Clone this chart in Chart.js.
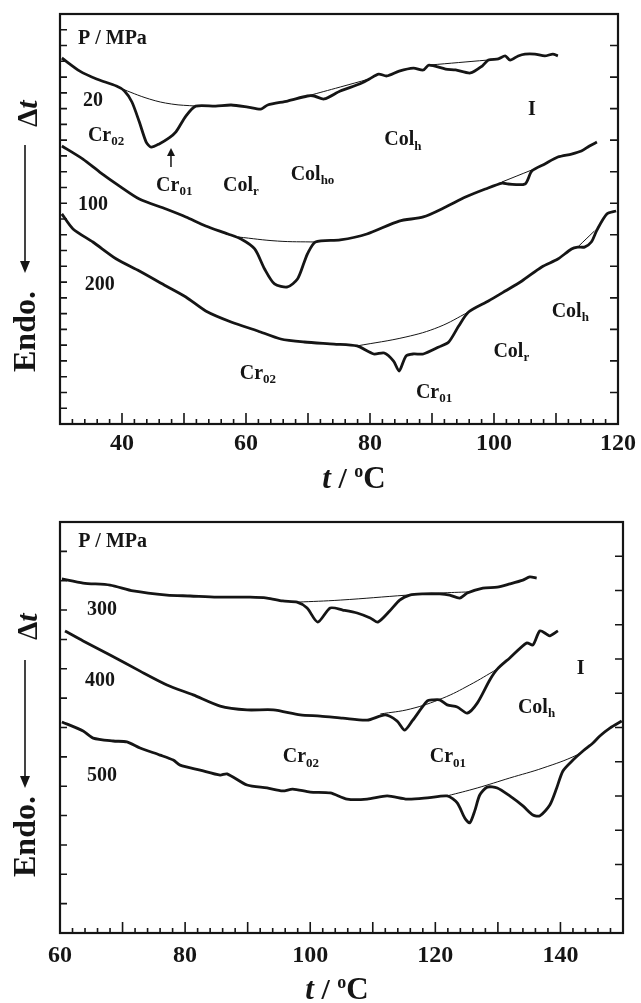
<!DOCTYPE html>
<html>
<head>
<meta charset="utf-8">
<script src="https://cdn.jsdelivr.net/npm/chart.js@4.4.1/dist/chart.umd.min.js"></script>
<style>
  body { margin: 0; background: #fff; }
  .panel { position: absolute; left: 0; width: 641px; }
</style>
</head>
<body>
<div class="panel" style="top:0;height:500px"><canvas id="topChart" width="641" height="500"></canvas></div>
<div class="panel" style="top:500px;height:503px"><canvas id="bottomChart" width="641" height="503"></canvas></div>
<script>
// ---------- top panel (20, 100, 200 MPa) ----------
const t20 = [30.3, 33.2, 35.9, 39.1, 40.4, 41.6, 42.8, 43.9, 44.7, 46.0, 47.6, 48.7, 50.3, 51.9, 55.1, 57.6, 60.3, 62.4, 63.5, 66.7, 69.9, 71.0, 72.6, 75.2, 78.3, 79.9, 81.4, 82.7, 84.7, 87.0, 88.6, 89.5, 92.2, 93.8, 96.2, 98.1, 99.1, 100.7, 101.8, 102.6, 103.9, 105.0, 106.6, 108.2, 109.5, 110.3];
const y20 = [23.21, 22.38, 21.88, 21.43, 21.12, 20.42, 19.15, 17.88, 17.56, 17.76, 18.14, 18.52, 19.53, 20.16, 20.16, 20.23, 20.10, 19.97, 20.23, 20.48, 20.80, 20.80, 20.61, 21.12, 21.56, 21.88, 22.19, 22.07, 22.38, 22.57, 22.45, 22.76, 22.51, 22.45, 22.26, 22.70, 23.08, 23.15, 23.34, 23.08, 23.34, 23.46, 23.46, 23.34, 23.46, 23.34];
const t20baseA = [39.6, 44.4, 48.0, 51.9];
const y20baseA = [21.31, 20.61, 20.29, 20.16];
const t20baseB = [69.9, 75.2, 79.9];
const y20baseB = [20.80, 21.37, 21.88];
const t20baseC = [89.5, 99.0];
const y20baseC = [22.76, 23.08];

const t100 = [30.3, 33.7, 36.4, 39.6, 42.8, 47.1, 50.3, 53.5, 57.1, 59.2, 61.4, 63.0, 64.6, 66.7, 68.3, 69.4, 69.9, 71.2, 75.2, 79.5, 84.7, 88.6, 92.2, 95.4, 98.6, 101.3, 102.3, 105.0, 106.1, 108.2, 110.3, 112.5, 114.1, 115.4, 116.6];
const y100 = [17.63, 16.80, 15.98, 15.09, 14.27, 13.63, 13.13, 12.56, 12.05, 11.73, 11.10, 9.83, 8.88, 8.69, 9.19, 10.27, 10.78, 11.54, 11.67, 12.05, 12.87, 13.13, 13.76, 14.39, 14.90, 15.28, 15.22, 15.22, 16.04, 16.49, 16.93, 17.12, 17.31, 17.63, 17.88];
const t100baseA = [58.7, 65.1, 71.2];
const y100baseA = [11.86, 11.60, 11.54];
const t100baseB = [101.3, 106.1];
const y100baseB = [15.35, 16.11];

const t200 = [30.3, 32.1, 35.3, 39.1, 42.8, 47.1, 50.3, 53.5, 57.6, 61.9, 65.6, 69.4, 74.2, 77.9, 80.6, 82.3, 83.8, 84.7, 85.8, 87.0, 88.6, 91.1, 92.7, 94.3, 95.9, 99.1, 101.8, 104.5, 107.7, 110.3, 112.5, 113.5, 114.6, 115.7, 116.6, 118.2, 119.7];
const y200 = [13.32, 12.37, 11.54, 10.46, 9.70, 8.75, 8.05, 7.17, 6.47, 5.90, 5.39, 5.20, 5.07, 4.95, 4.44, 4.50, 3.99, 3.36, 4.31, 4.44, 4.44, 4.88, 5.20, 6.21, 7.10, 7.80, 8.43, 9.07, 9.96, 10.46, 11.10, 11.22, 11.22, 11.54, 12.30, 13.32, 13.51];
const t200baseA = [77.9, 85.8, 91.1, 95.9];
const y200baseA = [4.95, 5.52, 6.15, 7.10];
const t200baseB = [113.5, 116.2];
const y200baseB = [11.22, 12.24];

// ---------- bottom panel (300, 400, 500 MPa) ----------
const t300 = [60.3, 63.7, 68.0, 71.7, 77.1, 80.8, 85.1, 90.4, 93.1, 95.6, 97.9, 99.5, 101.2, 103.2, 105.2, 107.5, 109.6, 110.8, 112.7, 114.3, 115.9, 118.0, 120.7, 122.3, 123.9, 125.1, 127.6, 129.9, 131.9, 134.0, 135.1, 136.2];
const y300 = [12.06, 11.92, 11.85, 11.65, 11.51, 11.48, 11.44, 11.44, 11.41, 11.31, 11.27, 11.07, 10.59, 11.07, 11.00, 10.90, 10.73, 10.59, 10.97, 11.34, 11.51, 11.55, 11.55, 11.51, 11.41, 11.58, 11.75, 11.78, 11.89, 12.02, 12.13, 12.09];
const t300base = [97.9, 104.8, 115.5, 120.7, 125.5];
const y300base = [11.27, 11.34, 11.51, 11.58, 11.62];

const t400 = [60.8, 63.7, 68.0, 72.8, 77.1, 81.3, 85.6, 89.9, 94.1, 98.4, 101.6, 105.2, 109.1, 112.0, 113.9, 115.1, 116.4, 118.7, 119.6, 120.7, 121.9, 123.5, 125.1, 126.7, 128.7, 129.9, 131.9, 134.6, 135.6, 136.7, 137.8, 138.3, 139.6];
const y400 = [10.29, 9.95, 9.47, 8.92, 8.45, 8.11, 7.73, 7.60, 7.60, 7.43, 7.39, 7.32, 7.25, 7.43, 7.22, 6.91, 7.25, 7.90, 7.94, 7.94, 7.77, 7.70, 7.49, 7.83, 8.62, 8.99, 9.37, 9.88, 9.81, 10.29, 10.18, 10.12, 10.29];
const t400base = [111.2, 116.0, 121.2, 125.5, 129.9];
const y400base = [7.46, 7.63, 8.00, 8.45, 8.99];

const t500 = [60.3, 63.7, 65.3, 68.5, 70.7, 72.8, 76.0, 78.1, 79.2, 82.4, 85.6, 86.7, 89.9, 93.1, 95.6, 97.2, 100.0, 103.2, 105.9, 109.1, 112.3, 115.5, 118.7, 121.9, 123.5, 124.7, 125.5, 126.3, 127.1, 128.3, 129.9, 131.9, 134.0, 135.6, 136.7, 138.3, 139.4, 140.4, 142.0, 143.6, 145.2, 146.3, 147.9, 149.8];
const y500 = [7.19, 6.88, 6.64, 6.54, 6.51, 6.30, 6.06, 5.89, 5.72, 5.55, 5.38, 5.42, 5.04, 4.94, 4.84, 4.90, 4.80, 4.77, 4.56, 4.56, 4.67, 4.56, 4.60, 4.67, 4.43, 3.92, 3.75, 4.16, 4.70, 4.97, 4.94, 4.67, 4.33, 4.02, 3.99, 4.36, 4.94, 5.52, 5.89, 6.20, 6.47, 6.71, 6.98, 7.22];
const t500base = [121.9, 126.7, 131.9, 137.2, 142.6, 144.7];
const y500base = [4.67, 4.94, 5.28, 5.62, 6.06, 6.37];

// text written inside the plots (data coordinates)
const topLabels = [
    { x: 32.9, y: 24.4, text: 'P / MPa' },
    { x: 33.7, y: 20.5, text: '20' },
    { x: 34.5, y: 18.3, text: 'Cr', sub: '02' },
    { x: 45.5, y: 15.1, text: 'Cr', sub: '01' },
    { x: 56.3, y: 15.1, text: 'Col', sub: 'r' },
    { x: 67.2, y: 15.8, text: 'Col', sub: 'ho' },
    { x: 82.3, y: 18.0, text: 'Col', sub: 'h' },
    { x: 105.5, y: 19.9, text: 'I' },
    { x: 32.9, y: 13.9, text: '100' },
    { x: 34.0, y: 8.8, text: '200' },
    { x: 59.0, y: 3.2, text: 'Cr', sub: '02' },
    { x: 87.4, y: 2.0, text: 'Cr', sub: '01' },
    { x: 99.9, y: 4.6, text: 'Col', sub: 'r' },
    { x: 109.3, y: 7.1, text: 'Col', sub: 'h' }
];
const bottomLabels = [
    { x: 62.9, y: 13.34, text: 'P / MPa' },
    { x: 64.3, y: 11.0, text: '300' },
    { x: 64.0, y: 8.6, text: '400' },
    { x: 64.3, y: 5.36, text: '500' },
    { x: 95.6, y: 5.99, text: 'Cr', sub: '02' },
    { x: 119.1, y: 5.99, text: 'Cr', sub: '01' },
    { x: 133.2, y: 7.68, text: 'Col', sub: 'h' },
    { x: 142.6, y: 8.99, text: 'I' }
];

const FONT = "'Liberation Serif', 'Times New Roman', serif";
const INK = '#151515';

function pts(xs, ys) {
    return xs.map((x, i) => ({ x: x, y: ys[i] }));
}

function curve(xs, ys) {
    return { data: pts(xs, ys), borderColor: INK, borderWidth: 2.8, pointRadius: 0, tension: 0.25, fill: false };
}

function baseline(xs, ys) {
    return { data: pts(xs, ys), borderColor: INK, borderWidth: 1, pointRadius: 0, tension: 0.4, fill: false };
}

function drawParts(ctx, parts, cx, by) {
    let w = 0;
    parts.forEach(p => { ctx.font = p.font; w += ctx.measureText(p.text).width; });
    let x = cx - w / 2;
    parts.forEach(p => {
        ctx.font = p.font;
        ctx.fillText(p.text, x, by + (p.dy || 0));
        x += ctx.measureText(p.text).width;
    });
}

// box, inward ticks, in-plot text and axis titles
const framePlugin = {
    id: 'frame',
    afterDatasetsDraw(chart, args, o) {
        const ctx = chart.ctx, a = chart.chartArea;
        const xs = chart.scales.x, ys = chart.scales.y;
        ctx.save();
        ctx.strokeStyle = INK;
        ctx.fillStyle = INK;

        ctx.lineWidth = 1.6;
        ctx.beginPath();
        const nx = Math.round((xs.max - xs.min) / 2);
        for (let k = 1; k < nx; k++) {
            const v = xs.min + k * 2;
            const px = xs.getPixelForValue(v);
            const len = (v % 10 === 0) ? 11 : 5;
            ctx.moveTo(px, a.bottom);
            ctx.lineTo(px, a.bottom - len);
        }
        const span = ys.max - ys.min;
        for (let k = 1; k < o.leftTicks; k++) {
            const py = ys.getPixelForValue(ys.min + k * span / o.leftTicks);
            ctx.moveTo(a.left, py);
            ctx.lineTo(a.left + 7, py);
        }
        for (let k = 1; k < o.rightTicks; k++) {
            const py = ys.getPixelForValue(ys.min + k * span / o.rightTicks);
            ctx.moveTo(a.right, py);
            ctx.lineTo(a.right - 8, py);
        }
        ctx.stroke();

        ctx.lineWidth = 2.2;
        ctx.strokeRect(a.left, a.top, a.right - a.left, a.bottom - a.top);

        // labels in the plot
        ctx.textBaseline = 'middle';
        ctx.textAlign = 'left';
        o.labels.forEach(l => {
            const px = xs.getPixelForValue(l.x), py = ys.getPixelForValue(l.y);
            ctx.font = 'bold 20px ' + FONT;
            ctx.fillText(l.text, px, py);
            if (l.sub) {
                const w = ctx.measureText(l.text).width;
                ctx.font = 'bold 13px ' + FONT;
                ctx.fillText(l.sub, px + w, py + 6);
            }
        });

        // small arrow pointing at the Cr01 transition
        if (o.arrow) {
            const px = xs.getPixelForValue(o.arrow.x);
            const tip = ys.getPixelForValue(o.arrow.tip), tail = ys.getPixelForValue(o.arrow.tail);
            ctx.lineWidth = 1.5;
            ctx.beginPath();
            ctx.moveTo(px, tail);
            ctx.lineTo(px, tip + 5);
            ctx.stroke();
            ctx.beginPath();
            ctx.moveTo(px, tip);
            ctx.lineTo(px - 4, tip + 8);
            ctx.lineTo(px + 4, tip + 8);
            ctx.closePath();
            ctx.fill();
        }

        // x title: t / oC
        ctx.textBaseline = 'alphabetic';
        drawParts(ctx, [
            { text: 't', font: 'italic bold 31px ' + FONT },
            { text: ' / ', font: 'bold 30px ' + FONT },
            { text: 'o', font: 'bold 18px ' + FONT, dy: -11 },
            { text: 'C', font: 'bold 31px ' + FONT }
        ], o.xTitle.cx, o.xTitle.by);

        // y title: Endo. <---- Δt (rotated)
        const g = o.yTitle;
        ctx.save();
        ctx.translate(g.x, g.endo);
        ctx.rotate(-Math.PI / 2);
        ctx.font = 'bold 32px ' + FONT;
        ctx.fillText('Endo.', 0, 0);
        ctx.restore();

        ctx.save();
        ctx.translate(g.x + 2, g.dt);
        ctx.rotate(-Math.PI / 2);
        ctx.font = 'bold 29px ' + FONT;
        ctx.fillText('\u0394', 0, 0);
        const dw = ctx.measureText('\u0394').width;
        ctx.font = 'italic bold 30px ' + FONT;
        ctx.fillText('t', dw, 0);
        ctx.restore();

        ctx.lineWidth = 1.6;
        ctx.beginPath();
        ctx.moveTo(g.lineX, g.tail);
        ctx.lineTo(g.lineX, g.tip - 6);
        ctx.stroke();
        ctx.beginPath();
        ctx.moveTo(g.lineX, g.tip);
        ctx.lineTo(g.lineX - 5, g.tip - 12);
        ctx.lineTo(g.lineX + 5, g.tip - 12);
        ctx.closePath();
        ctx.fill();

        ctx.restore();
    }
};

function makeChart(id, datasets, p) {
    return new Chart(document.getElementById(id), {
        type: 'line',
        data: { datasets: datasets },
        plugins: [framePlugin],
        options: {
            responsive: false,
            animation: false,
            devicePixelRatio: 1,
            layout: { padding: { top: p.top, left: 60, right: 18, bottom: 0 } },
            plugins: {
                legend: { display: false },
                tooltip: { enabled: false },
                frame: p.frame
            },
            scales: {
                x: {
                    type: 'linear',
                    min: p.xMin,
                    max: p.xMax,
                    grid: { display: false, drawTicks: false },
                    border: { display: false },
                    afterFit: s => { s.height = p.xHeight; },
                    ticks: {
                        stepSize: 20,
                        includeBounds: false,
                        maxRotation: 0,
                        autoSkip: false,
                        padding: p.tickPad,
                        color: INK,
                        font: { family: FONT, size: 24, weight: 'bold' }
                    }
                },
                y: {
                    type: 'linear',
                    min: 0,
                    max: p.yMax,
                    display: false
                }
            }
        }
    });
}

makeChart('topChart', [
    curve(t20, y20), baseline(t20baseA, y20baseA), baseline(t20baseB, y20baseB), baseline(t20baseC, y20baseC),
    curve(t100, y100), baseline(t100baseA, y100baseA), baseline(t100baseB, y100baseB),
    curve(t200, y200), baseline(t200baseA, y200baseA), baseline(t200baseB, y200baseB)
], {
    top: 14, xMin: 30, xMax: 120, yMax: 26, xHeight: 76, tickPad: 5,
    frame: {
        leftTicks: 26, rightTicks: 13,
        labels: topLabels,
        arrow: { x: 47.9, tip: 17.5, tail: 16.3 },
        xTitle: { cx: 354, by: 488 },
        yTitle: { x: 35, endo: 372, dt: 127, lineX: 25, tail: 145, tip: 273 }
    }
});

makeChart('bottomChart', [
    curve(t300, y300), baseline(t300base, y300base),
    curve(t400, y400), baseline(t400base, y400base),
    curve(t500, y500), baseline(t500base, y500base)
], {
    top: 22, xMin: 60, xMax: 150, yMax: 14, xHeight: 70, tickPad: 8,
    frame: {
        leftTicks: 14, rightTicks: 12,
        labels: bottomLabels,
        xTitle: { cx: 337, by: 499 },
        yTitle: { x: 35, endo: 377, dt: 140, lineX: 25, tail: 160, tip: 288 }
    }
});
</script>
</body>
</html>
